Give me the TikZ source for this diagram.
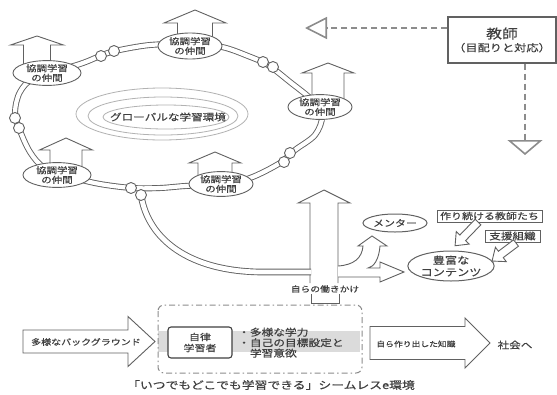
\documentclass[tikz,border=0pt]{standalone}
\usepackage{fontspec}
\setmainfont{Noto Sans CJK JP}[FakeStretch=1.22, FakeBold=0.5, AutoFakeBold=0.5]
\usetikzlibrary{shapes.geometric,arrows.meta}
\definecolor{ln}{gray}{0.38}
\definecolor{txt}{gray}{0.25}
\definecolor{dsh}{gray}{0.55}
\newcommand\jfs[2]{\fontsize{#1}{#2}\selectfont}
% hollow arrow polygon: x, y, angle, length, shaft half, head half, head length
\newcommand\myarrow[7]{%
  \path[harrowst,shift={(#1,#2)},rotate=#3]
    (0,-#5) -- ({#4-#7},-#5) -- ({#4-#7},-#6) -- (#4,0) -- ({#4-#7},#6)
    -- ({#4-#7},#5) -- (0,#5) -- cycle;}
\tikzset{
  harrowst/.style={draw=ln, fill=white, line width=0.9pt, line join=miter},
  ringst/.style={draw=ln, line width=0.9pt, double=white, double distance=4.2pt},
  bead/.style={circle, draw=ln, fill=white, line width=0.9pt, minimum size=11pt, inner sep=0pt},
  partner/.style={ellipse, draw=ln, fill=white, line width=0.9pt, minimum width=68pt,
    minimum height=24pt, inner sep=0pt, align=center, font=\jfs{8.6}{9.6}, text=txt},
  lbox/.style={draw=ln, line width=1pt, fill=white, inner sep=0pt, text=txt},
  tdash/.style={draw=dsh, line width=2pt, dash pattern=on 6pt off 4pt},
  glob/.style={draw=gray!60, line width=0.8pt},
  wall/.style={draw=ln, line width=0.9pt},
  plain/.style={text=txt, inner sep=0pt}
}
\begin{document}
\begin{tikzpicture}[x=1pt,y=-1pt]
\useasboundingbox (0,0) rectangle (557,394);
\fill[white] (0,0) rectangle (557,394);

% global environment ellipses
\draw[glob] (162,114) ellipse [x radius=86pt, y radius=26pt];
\draw[glob] (163,116) ellipse [x radius=75pt, y radius=19pt];
\draw[glob] (166,117) ellipse [x radius=63pt, y radius=12pt];
\node[plain, font=\jfs{9.5}{11}] (globtxt) at (168,117) {グローバルな学習環境};

% ring
\draw[ringst] plot[smooth cycle, tension=0.55] coordinates {
  (80,64) (100,56) (115,51) (150,45) (190,44) (222,47) (248,56) (268,65)
  (290,82) (312,100) (322,116) (315,135) (295,150) (280,163) (250,178)
  (221,184) (185,186) (160,188) (132,188) (100,184) (75,178) (45,168)
  (30,152) (19,128) (15,112) (20,92) (35,78)};

% big shaft walls
\draw[wall] (310,283) -- (310,203) -- (298,203) -- (324,190) -- (350,203) -- (338,203) -- (338,283);
\draw[wall] (311,294) -- (311,303) -- (339,303) -- (339,294);
% branch tube to shaft
\draw[ringst, double distance=4.8pt] (141,195) .. controls (148,240) and (190,271) .. (260,272) -- (311,272);
% right branch (to mentor) and right arrow (to contents)
\draw[wall, fill=white] (338,266) .. controls (354,265) and (362,258) .. (363,246)
  -- (358,246) -- (372,236) -- (387,246) -- (380,246)
  .. controls (379,259) and (374,267) .. (368,268) -- (380,268) -- (380,262)
  -- (404,272) -- (380,282) -- (380,277) -- (338,277);

% beads
\node[bead] (b1) at (101,56) {};
\node[bead] (b2) at (114,51) {};
\node[bead] (b3) at (263,62) {};
\node[bead] (b4) at (273,67) {};
\node[bead] (b5) at (290,153) {};
\node[bead] (b6) at (284,162) {};
\node[bead] (b7) at (15,118) {};
\node[bead] (b8) at (19,128) {};
\node[bead] (b9) at (131,188) {};
\node[bead] (b10) at (141,195) {};

% up arrows above partners
\myarrow{37}{66}{90}{30}{13.5}{26.5}{9}
\myarrow{195}{38}{90}{28}{17.5}{31}{13}
\myarrow{328}{100}{90}{37}{16}{26}{10}
\myarrow{66}{168}{90}{30}{16}{26.5}{12}
\myarrow{215}{177}{90}{25}{17}{26}{11}

% partners
\node[partner] (p1) at (47,73) {協調学習\\の仲間};
\node[partner, minimum width=64pt, minimum height=26pt] (p2) at (190,46) {協調学習\\の仲間};
\node[partner, minimum width=64pt] (p3) at (320,107) {協調学習\\の仲間};
\node[partner] (p4) at (57,175) {協調学習\\の仲間};
\node[partner, minimum width=64pt] (p5) at (221,184) {協調学習\\の仲間};

% teacher
\node[draw=ln, line width=1.1pt, fill=white, minimum width=108pt, minimum height=46pt,
  align=center, text=txt, inner sep=0pt] (teacher) at (502,40)
  {{\jfs{13}{15}教師}\\[1pt]{\jfs{10}{12}（目配りと対応）}};
\coordinate (tleft) at (305,28);
\coordinate (tdown) at (525,155);
\draw[tdash, -{Triangle[open, length=22pt, width=22pt, line width=1.6pt]}]
  ([yshift=12pt]teacher.west) -- (tleft);
\draw[tdash, -{Triangle[open, length=15pt, width=35pt, line width=1.6pt]}]
  ([xshift=23pt]teacher.south) -- (tdown);

% mentor, contents, teachers, support
\node[ellipse, draw=ln, line width=1pt, fill=white, minimum width=64pt, minimum height=18pt,
  inner sep=0pt, text=txt, font=\jfs{9}{10}] (mentor) at (395,223) {メンター};
\node[ellipse, draw=ln, line width=1pt, fill=white, minimum width=77pt, minimum height=30pt,
  inner sep=0pt, align=center, text=txt, font=\jfs{10}{12}] (cont) at (451,266) {豊富な\\コンテンツ};
\node[lbox, minimum width=105pt, minimum height=12pt, font=\jfs{9}{10}] (makers) at (489.5,216) {作り続ける教師たち};
\node[lbox, minimum width=55pt, minimum height=12pt, font=\jfs{9.5}{10}] (support) at (512.5,236) {支援組織};
\myarrow{478}{222}{226}{33}{4}{9}{11}
\myarrow{516}{243}{217}{30}{4}{9}{11}

% action label
\node[plain, font=\jfs{8}{9}] (act) at (325,289) {自らの働きかけ};

% bottom row
\fill[gray!28] (158,331) rectangle (360,352);
\draw[draw=dsh, line width=1pt, dash pattern=on 6pt off 3pt on 1.5pt off 3pt, rounded corners=6pt]
  (158,305) rectangle (362,373);
\myarrow{23}{341.5}{0}{132}{11.5}{25}{27}
\node[plain, font=\jfs{8.2}{9}] (bg) at (86,342) {多様なバックグラウンド};
\node[draw=txt, line width=1.1pt, rounded corners=3pt, fill=white, minimum width=64pt,
  minimum height=31pt, align=center, text=txt, inner sep=0pt, font=\jfs{9}{11}] (learner) at (200,342.5) {自律\\学習者};
\node[plain, anchor=north west, align=left, font=\jfs{9.6}{10.5}] (traits) at (238,327.5)
  {・多様な学力\\・自己の目標設定と\\\phantom{・}学習意欲};
\myarrow{370}{343}{0}{120}{16.5}{25}{25}
\node[plain, font=\jfs{7.2}{8}] (know) at (416,344) {自ら作り出した知識};
\node[plain, font=\jfs{9.5}{10}] (soc) at (515,345) {社会へ};
\node[plain, font=\jfs{10.5}{12}] (cap) at (271,385) {「いつでもどこでも学習できる」シームレスe環境};
\end{tikzpicture}
\end{document}
